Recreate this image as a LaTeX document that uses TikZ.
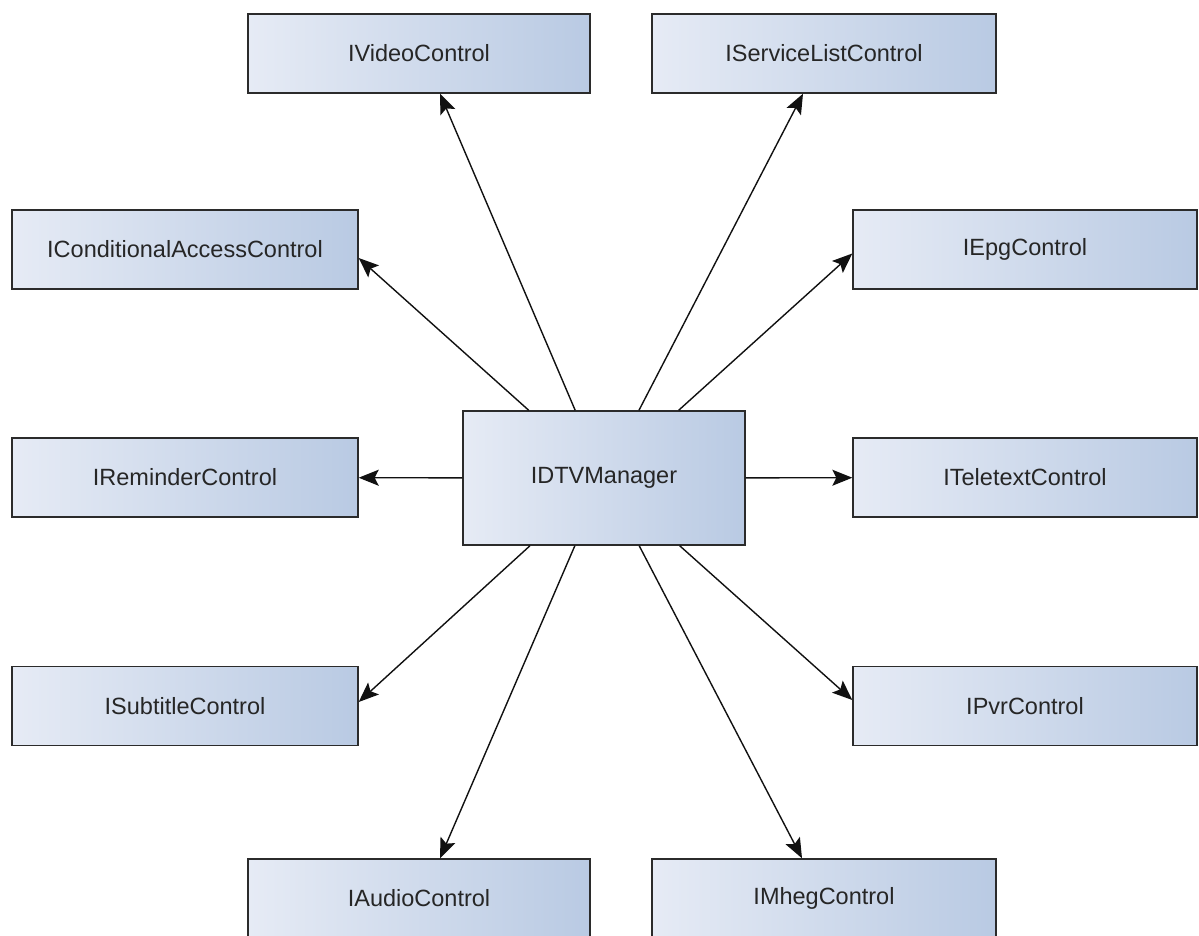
\documentclass[tikz,border=0pt]{standalone}
\usepackage{fontspec}
\setmainfont{Liberation Sans}
\usetikzlibrary{arrows.meta,calc}
\definecolor{boxL}{HTML}{E6EBF5}
\definecolor{boxR}{HTML}{B9CAE3}
\definecolor{boxEdge}{HTML}{2B2B2B}
\definecolor{txt}{HTML}{262626}
\definecolor{wire}{HTML}{111111}
\begin{document}
\begin{tikzpicture}[x=1pt,y=-1pt,
  iface/.style={draw=boxEdge,line width=1.4pt,left color=boxL,right color=boxR,
    minimum width=344pt,minimum height=79pt,inner sep=0pt,text=txt,
    font=\fontsize{23.5}{28}\selectfont},
  mgrbox/.style={iface,minimum width=282pt,minimum height=134pt},
  uses/.style={draw=wire,line width=1.4pt,-{Stealth[length=20pt,width=16pt,inset=4pt]}}]
\useasboundingbox (0,0) rectangle (1199,935);
\clip (0,0) rectangle (1199,935);

% central manager
\node[mgrbox] (mgr) at (604,478) {IDTVManager};

% control interfaces
\node[iface,minimum width=342pt] (vid) at (419,53.5) {IVideoControl};
\node[iface] (svc) at (824,53.5) {IServiceListControl};
\node[iface,minimum width=346pt] (cac) at (185,249.5) {IConditionalAccessControl};
\node[iface] (epg) at (1025,249.5) {IEpgControl};
\node[iface,minimum width=346pt] (rem) at (185,477.5) {IReminderControl};
\node[iface] (ttx) at (1025,477.5) {ITeletextControl};
\node[iface,minimum width=346pt] (sub) at (185,706) {ISubtitleControl};
\node[iface] (pvr) at (1025,706) {IPvrControl};
\node[iface,minimum width=342pt] (aud) at (419,898.5) {IAudioControl};
\node[iface] (mhg) at (824,898.5) {IMhegControl};

% dependencies radiating from the manager
\draw[uses] (mgr) -- ($(vid.south)+(21,0)$);
\draw[uses] (mgr) -- ($(svc.south)+(-21,0)$);
\draw[uses] (mgr) -- ($(cac.east)+(0,8.5)$);
\draw[uses] (mgr) -- ($(epg.west)+(0,4)$);
\draw[uses] (mgr) -- (rem);
\draw[uses] (mgr) -- (ttx);
\draw[uses] (mgr) -- ($(sub.east)+(0,-4)$);
\draw[uses] (mgr) -- ($(pvr.west)+(0,-6)$);
\draw[uses] (mgr) -- ($(aud.north)+(21,0)$);
\draw[uses] (mgr) -- ($(mhg.north)+(-22,0)$);
\end{tikzpicture}
\end{document}
